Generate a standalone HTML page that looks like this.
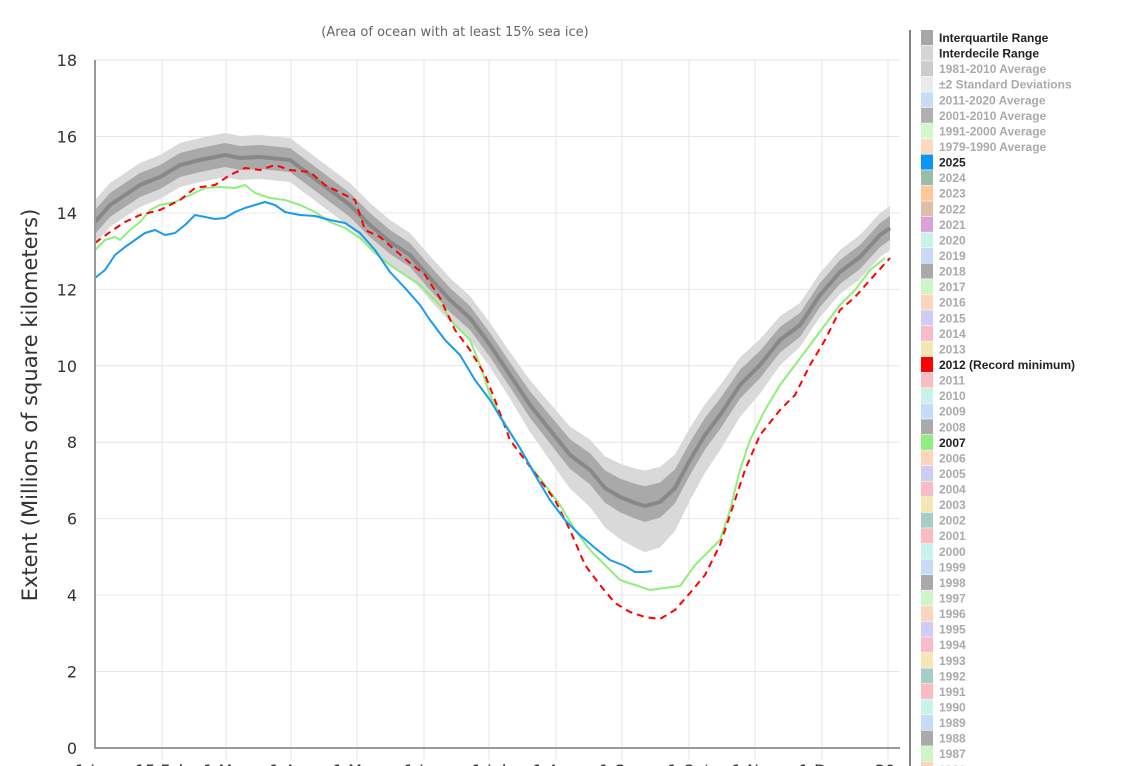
<!DOCTYPE html>
<html><head><meta charset="utf-8"><style>
body{margin:0;background:#fff;width:1123px;height:766px;overflow:hidden;font-family:"Liberation Sans",sans-serif}
</style></head><body>
<svg id="s" width="1123" height="766" xmlns="http://www.w3.org/2000/svg" style="position:absolute;left:0;top:0">
<text x="455" y="36" text-anchor="middle" font-size="13" fill="#666" font-family="DejaVu Sans, sans-serif">(Area of ocean with at least 15% sea ice)</text>
<g id="grid"></g>
<g id="bands"></g>
<g id="lines"></g>
<line x1="95" y1="60" x2="95" y2="749" stroke="#999" stroke-width="2"/>
<line x1="94" y1="748" x2="900" y2="748" stroke="#999" stroke-width="2"/>
<text transform="translate(37,405) rotate(-90)" text-anchor="middle" font-size="21" fill="#333" font-family="DejaVu Sans, sans-serif">Extent (Millions of square kilometers)</text>
<line x1="910" y1="30" x2="910" y2="766" stroke="#333" stroke-width="1.2"/>
<g id="leg"></g>
</svg>
<script>
var NS="http://www.w3.org/2000/svg";
function el(p,t,a,txt){var e=document.createElementNS(NS,t);for(var k in a)e.setAttribute(k,a[k]);if(txt!==undefined)e.textContent=txt;document.getElementById(p).appendChild(e);return e;}
var Y=function(v){return 748-v*38.22;};
for(var v=0;v<=18;v+=2){
 if(v>0)el("grid","line",{x1:95,x2:900,y1:Y(v),y2:Y(v),stroke:"#e6e6e6"});
 el("grid","text",{x:77,y:Y(v)+6,"text-anchor":"end","font-size":16,fill:"#333","font-family":"DejaVu Sans, sans-serif"},v);
}
[162,226,291,357,424,489,556,622,689,755,822,888].forEach(function(x){el("grid","line",{x1:x,x2:x,y1:60,y2:760,stroke:"#e6e6e6"});});
var lbls=["1 Jan","15 Feb","1 Mar","1 Apr","1 May","1 Jun","1 Jul","1 Aug","1 Sep","1 Oct","1 Nov","1 Dec","30"];
[95,162,226,291,357,424,489,556,622,689,755,822,885].forEach(function(x,i){el("grid","text",{x:x,y:776,"text-anchor":"middle","font-size":16,fill:"#333","font-family":"DejaVu Sans, sans-serif"},lbls[i]);});
var med=[[95,222],[110,205],[125,195],[140,185],[160,177],[180,165],[200,160],[225,155],[240,158],[260,157],[290,160],[310,175],[330,190],[350,205],[370,225],[390,242],[410,255],[430,278],[450,300],[470,318],[490,345],[510,375],[530,405],[550,430],[570,455],[590,470],[605,488],[620,497],[635,503],[645,506],[660,502],[675,488],[690,460],[705,435],[720,415],[740,385],[760,365],[780,340],[800,325],[820,295],[840,272],[860,257],[880,235],[890,228]];
function w(x,a,b){var t=Math.max(0,1-Math.abs(x-650)/150);return a+(b-a)*t;}
function band(up,dn,fill){var top=med.map(function(p){return p[0]+","+(p[1]-w(p[0],up[0],up[1]));});var bot=med.slice().reverse().map(function(p){return p[0]+","+(p[1]+w(p[0],dn[0],dn[1]));});el("bands","polygon",{points:top.concat(bot).join(" "),fill:fill});}
band([22,36],[22,47],"#d9d9d9");
band([12,20],[12,16],"#a9a9a9");
function pl(pts,st,sw,da){var a={points:pts.map(function(p){return p.join(",");}).join(" "),fill:"none",stroke:st,"stroke-width":sw,"stroke-linejoin":"round"};if(da)a["stroke-dasharray"]=da;el("lines","polyline",a);}
pl(med,"#888",4);
pl([[95,250],[105,240],[115,237],[120,240],[130,230],[140,222],[150,210],[160,205],[175,202],[190,195],[205,188],[220,187],[235,188],[245,185],[255,193],[270,198],[285,200],[300,205],[315,212],[330,222],[345,228],[360,238],[375,253],[390,265],[405,275],[420,285],[440,305],[455,325],[470,340],[480,365],[490,395],[500,415],[515,440],[530,465],[545,485],[560,505],[575,530],[590,550],[605,565],[620,580],[635,585],[650,590],[665,588],[680,586],[695,565],[710,550],[720,540],[730,510],[740,470],[750,440],[765,410],[780,385],[795,365],[810,345],[825,325],[840,305],[855,290],[870,270],[885,258]],"#90ee7e",2);
pl([[95,243],[110,232],[125,222],[140,215],[160,210],[180,200],[195,188],[215,185],[230,175],[245,168],[260,170],[275,165],[290,170],[310,172],[325,185],[345,195],[355,200],[365,230],[380,237],[395,250],[410,263],[425,275],[440,298],[455,330],[470,350],[485,375],[495,400],[510,440],[525,460],[540,480],[555,500],[570,530],[585,565],[600,585],[615,603],[630,612],[645,617],[660,619],[675,610],[690,593],[705,575],[720,545],[735,500],[745,470],[760,435],[780,410],[795,395],[810,365],[825,340],[840,310],[855,297],[870,280],[890,258]],"#f00",2,"7,5");
pl([[95,278],[105,270],[115,255],[125,247],[135,240],[145,233],[155,230],[165,235],[175,233],[185,225],[195,215],[205,217],[215,219],[225,218],[235,212],[245,208],[255,205],[265,202],[275,205],[285,212],[300,215],[315,216],[330,220],[345,223],[360,233],[375,250],[390,272],[405,288],[420,305],[430,320],[445,340],[460,355],[475,380],[490,400],[505,425],[520,448],[535,475],[550,500],[565,520],[580,535],[595,548],[610,560],[625,566],[635,572],[645,572],[652,571]],"#1a9af0",2);
var items=[["Interquartile Range","#a6a6a6",1],["Interdecile Range","#d4d4d4",1],["1981-2010 Average","#cccccc",0],["±2 Standard Deviations","#ebebeb",0],["2011-2020 Average","#c8ddf5",0],["2001-2010 Average","#b0b0b0",0],["1991-2000 Average","#d5f7cf",0],["1979-1990 Average","#fcd9bf",0],["2025","#0796f5",1],["2024","#98bda8",0],["2023","#fec997",0],["2022","#e0bea9",0],["2021","#dca0dc",0],["2020","#c8f2ea",0],["2019","#c6dcf6",0],["2018","#aaaaaa",0],["2017","#cef5c8",0],["2016","#fcd5bd",0],["2015","#cfcdf4",0],["2014","#f8bcc8",0],["2013","#f4e7b4",0],["2012 (Record minimum)","#ff0000",1],["2011","#f9bcc1",0],["2010","#c8f2ea",0],["2009","#c6dcf6",0],["2008","#aaaaaa",0],["2007","#90ee7e",1],["2006","#fcd5bd",0],["2005","#cfcdf4",0],["2004","#f8bcc8",0],["2003","#f4e7b4",0],["2002","#a6cec6",0],["2001","#f9bcc1",0],["2000","#c8f2ea",0],["1999","#c6dcf6",0],["1998","#aaaaaa",0],["1997","#cef5c8",0],["1996","#fcd5bd",0],["1995","#cfcdf4",0],["1994","#f8bcc8",0],["1993","#f4e7b4",0],["1992","#a6cec6",0],["1991","#f9bcc1",0],["1990","#c8f2ea",0],["1989","#c6dcf6",0],["1988","#aaaaaa",0],["1987","#cef5c8",0],["1986","#fcd5bd",0]];
items.forEach(function(it,i){var y=30+i*15.57;el("leg","rect",{x:921,y:y,width:12,height:15,fill:it[1]});el("leg","text",{x:939,y:y+12,"font-size":12,"font-weight":"bold",fill:it[2]?"#222":"#aaa"},it[0]);});
</script>
</body></html>
